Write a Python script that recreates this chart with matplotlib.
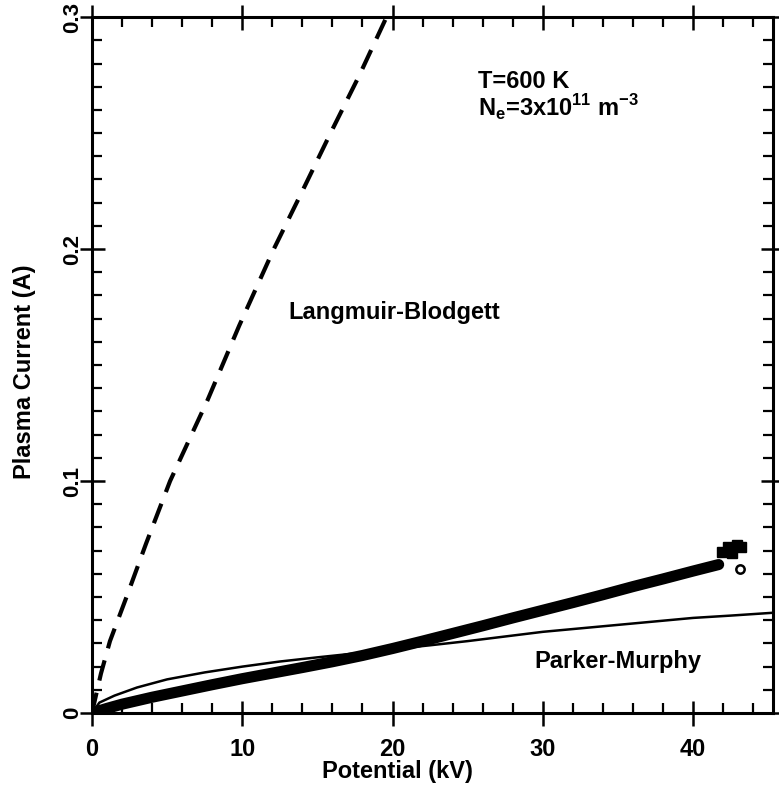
import matplotlib
matplotlib.use("Agg")
import matplotlib.pyplot as plt
from matplotlib.ticker import MultipleLocator

plt.rcParams['font.family'] = ['Liberation Sans', 'DejaVu Sans']
plt.rcParams['font.weight'] = 'bold'
plt.rcParams['mathtext.fontset'] = 'custom'
plt.rcParams['mathtext.rm'] = 'Liberation Sans:bold'
plt.rcParams['mathtext.bf'] = 'Liberation Sans:bold'

# measured plasma current (dense band of points), kV / A
meas_v = [0, 1, 2, 4, 6, 8, 10, 12, 14, 16, 18, 20, 22, 24, 26, 28, 30,
          32, 34, 36, 38, 40, 41.7]
meas_i = [0.0, 0.002, 0.0038, 0.0068, 0.0095, 0.0122, 0.0148, 0.0172,
          0.0196, 0.0221, 0.0248, 0.0278, 0.031, 0.0343, 0.0376, 0.041,
          0.0443, 0.0476, 0.051, 0.0545, 0.0578, 0.0612, 0.064]

# stray points at the high-voltage end
sq_v = [41.9, 42.3, 42.6, 42.9, 43.2]
sq_i = [0.0695, 0.0715, 0.069, 0.0725, 0.0715]
circ_v = [43.1]
circ_i = [0.062]

# Langmuir-Blodgett model (dashed)
lb_v = [0, 0.6, 1.2, 2.3, 3.6, 5.2, 7.7, 9.8, 12.1, 14.0, 15.8, 17.8,
        19.6, 20.3]
lb_i = [0, 0.017, 0.031, 0.050, 0.073, 0.10, 0.135, 0.167, 0.20, 0.225,
        0.249, 0.275, 0.30, 0.31]

# Parker-Murphy model (solid)
pm_v = [0, 0.5, 1.5, 3, 5, 7.5, 10, 12.5, 15, 17.5, 20, 22.5, 25, 27.5,
        30, 32.5, 35, 37.5, 40, 42.5, 45.5]
pm_i = [0, 0.0045, 0.0075, 0.011, 0.0145, 0.0175, 0.020, 0.0222, 0.024,
        0.0257, 0.0275, 0.0292, 0.031, 0.033, 0.035, 0.0365, 0.038,
        0.0395, 0.041, 0.042, 0.0433]

xticks = [0, 10, 20, 30, 40]
yticks = [0, 0.1, 0.2, 0.3]
ytick_labels = ['0', '0.1', '0.2', '0.3']

fig = plt.figure(figsize=(7.79, 7.89), dpi=100)
ax = fig.add_axes([0.118, 0.0963, 0.874, 0.882])

ax.plot(lb_v, lb_i, color='black', lw=3, dashes=(5, 3))
ax.plot(pm_v, pm_i, color='black', lw=1.8)
ax.plot(meas_v, meas_i, color='black', lw=8, solid_capstyle='round')
ax.plot(sq_v, sq_i, 's', color='black', ms=7)
ax.plot(circ_v, circ_i, 'o', mfc='white', mec='black', mew=1.8, ms=6)

fs = 17
ax.text(20.1, 0.170, 'Langmuir-Blodgett', ha='center', va='baseline', fontsize=fs)
ax.text(35.0, 0.0193, 'Parker-Murphy', ha='center', va='baseline', fontsize=fs)
ax.text(25.7, 0.2695, 'T=600 K', ha='left', va='baseline', fontsize=fs)
ax.text(25.7, 0.2570, r'N$_{\mathbf{e}}$=3x10$^{\mathbf{11}}$ m$^{\mathbf{-3}}$',
        ha='left', va='baseline', fontsize=fs)

ax.set_xlim(0, 45.3)
ax.set_ylim(0, 0.3)
ax.set_xticks(xticks)
ax.set_yticks(yticks)
ax.set_yticklabels(ytick_labels, rotation=90, va='center')
ax.xaxis.set_minor_locator(MultipleLocator(2))
ax.yaxis.set_minor_locator(MultipleLocator(0.01))

ax.tick_params(which='major', direction='inout', length=18, width=1.8,
               top=True, right=True, labelsize=fs, pad=3)
ax.tick_params(which='minor', direction='in', length=7, width=1.6,
               top=True, right=True)
ax.tick_params(axis='x', which='major', pad=9)
ax.tick_params(axis='y', which='major', labelsize=16, pad=-3)
for s in ax.spines.values():
    s.set_linewidth(2.2)

ax.set_xlabel('Potential (kV)', fontsize=fs, fontweight='bold', labelpad=-1,
              x=0.448)
ax.set_ylabel('Plasma Current (A)', fontsize=fs, fontweight='bold')
ax.yaxis.set_label_coords(-0.082, 0.49)

fig.savefig('out.png', dpi=100)
